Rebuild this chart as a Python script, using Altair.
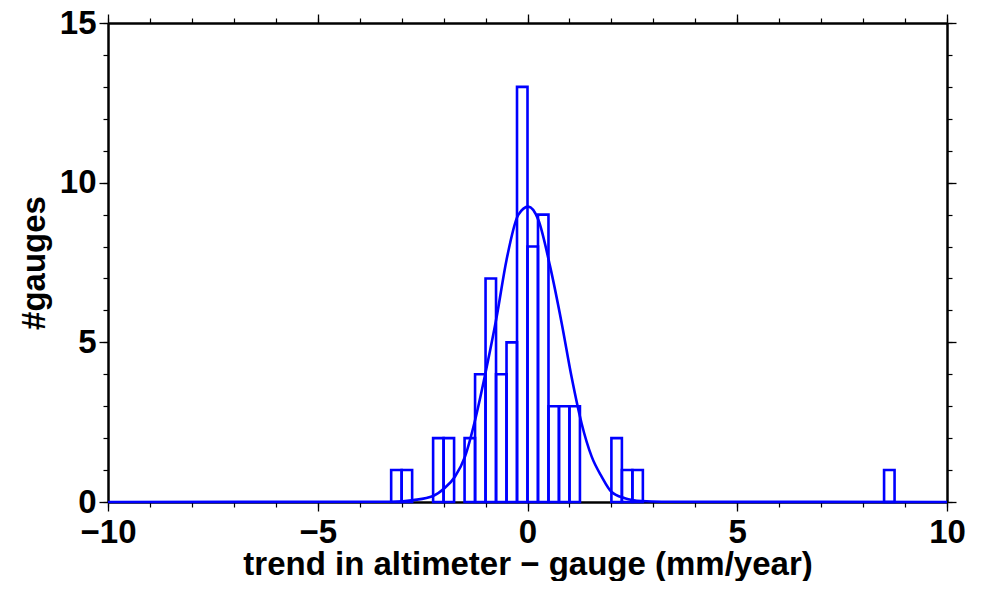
import altair as alt
import pandas as pd

# ---- data ----
bin_left = [-3.25, -3.0, -2.25, -2.0, -1.5, -1.25, -1.0, -0.75, -0.5, -0.25,
            0.0, 0.25, 0.5, 0.75, 1.0, 2.0, 2.25, 2.5, 8.5]
bin_right = [-3.0, -2.75, -2.0, -1.75, -1.25, -1.0, -0.75, -0.5, -0.25, 0.0,
             0.25, 0.5, 0.75, 1.0, 1.25, 2.25, 2.5, 2.75, 8.75]
counts = [1, 1, 2, 2, 2, 4, 7, 4, 5, 13, 8, 9, 3, 3, 3, 2, 1, 1, 1]

curve_x = [-10, -3.2, -2.72, -2.25, -1.98, -1.73, -1.49, -1.23, -0.97, -0.735,
           -0.5, -0.22, 0.02, 0.26, 0.54, 0.815, 1.05, 1.29, 1.53, 1.77,
           2.0, 2.32, 2.72, 3.2, 10]
curve_y = [0, 0.01, 0.06, 0.19, 0.43, 0.79, 1.42, 2.67, 4.24, 5.8,
           7.58, 8.99, 9.25, 8.83, 7.37, 5.6, 3.92, 2.46, 1.42, 0.79,
           0.32, 0.12, 0.03, 0.01, 0]

x_major = [-10, -5, 0, 5, 10]
x_minor = [-10, -9, -8, -7, -6, -5, -4, -3, -2, -1, 0, 1, 2, 3, 4, 5, 6, 7, 8, 9, 10]
y_major = [0, 5, 10, 15]
y_minor = [0, 1, 2, 3, 4, 5, 6, 7, 8, 9, 10, 11, 12, 13, 14, 15]

x_title = "trend in altimeter \u2212 gauge (mm/year)"
y_title = "#gauges"

hist = pd.DataFrame({"x0": bin_left, "x1": bin_right, "n": counts})
curve = pd.DataFrame({"x": curve_x, "y": curve_y})

xs = alt.Scale(domain=[-10, 10], nice=False, zero=False)
ys = alt.Scale(domain=[0, 15], nice=False)

FONT = "Liberation Sans"
FS = 33
BLUE = "#0000ff"


def frame_axis(orient, values):
    return alt.Axis(orient=orient, values=values, tickSize=9, tickWidth=1.3,
                    tickColor="black", domain=True, domainColor="black",
                    domainWidth=2.5, grid=False, labels=False, title=None)


def minor_axis(orient, values):
    return alt.Axis(orient=orient, values=values, tickSize=5, tickWidth=1.2,
                    tickColor="black", domain=False, grid=False, labels=False,
                    title=None)


bars = alt.Chart(hist).mark_rect(filled=False, stroke=BLUE, strokeWidth=2.6).encode(
    x=alt.X("x0:Q", scale=xs,
            axis=alt.Axis(orient="bottom", values=x_major, tickSize=9, tickWidth=1.3,
                          tickColor="black", domainColor="black", domainWidth=2.5,
                          grid=False, labelFont=FONT, labelFontSize=FS,
                          labelFontWeight="bold", labelColor="black", labelPadding=5,
                          labelFlush=False, labelOverlap=False,
                          title=x_title, titleFont=FONT, titleFontSize=FS,
                          titleFontWeight="bold", titleColor="black", titlePadding=-1)),
    x2="x1:Q",
    y=alt.Y("n:Q", scale=ys,
            axis=alt.Axis(orient="left", values=y_major, tickSize=9, tickWidth=1.3,
                          tickColor="black", domainColor="black", domainWidth=2.5,
                          grid=False, labelFont=FONT, labelFontSize=FS,
                          labelFontWeight="bold", labelColor="black", labelPadding=3,
                          labelFlush=False, labelOverlap=False,
                          title=y_title, titleFont=FONT, titleFontSize=FS,
                          titleFontWeight="bold", titleColor="black", titlePadding=8)),
    y2=alt.datum(0),
)

line = alt.Chart(curve).mark_line(color=BLUE, strokeWidth=2.6, interpolate="monotone").encode(
    x=alt.X("x:Q", scale=xs, axis=minor_axis("bottom", x_minor)),
    y=alt.Y("y:Q", scale=ys, axis=minor_axis("left", y_minor)),
)

top_right_major = alt.Chart(curve).mark_point(opacity=0).encode(
    x=alt.X("x:Q", scale=xs, axis=frame_axis("top", x_major)),
    y=alt.Y("y:Q", scale=ys, axis=frame_axis("right", y_major)),
)

top_right_minor = alt.Chart(curve).mark_point(opacity=0).encode(
    x=alt.X("x:Q", scale=xs, axis=minor_axis("top", x_minor)),
    y=alt.Y("y:Q", scale=ys, axis=minor_axis("right", y_minor)),
)

chart = alt.layer(bars, line, top_right_major, top_right_minor).resolve_axis(
    x="independent", y="independent"
).properties(
    width=839, height=479,
    autosize=alt.AutoSizeParams(type="none"),
    padding={"left": 100, "top": 15, "right": 25, "bottom": 79},
).configure_view(stroke=None)

chart.save("out.html", embed_options={"renderer": "svg", "actions": False})
